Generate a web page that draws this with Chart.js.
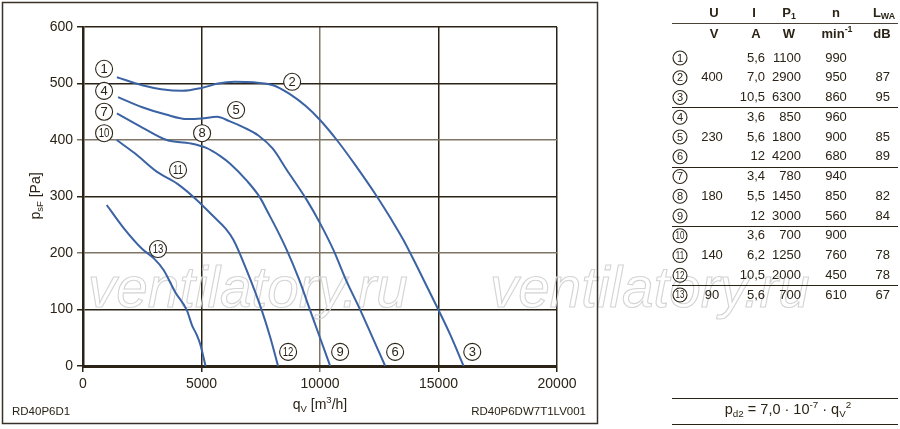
<!DOCTYPE html>
<html>
<head>
<meta charset="utf-8">
<script src="https://cdn.jsdelivr.net/npm/chart.js@4"></script>
<style>
  body { margin: 0; background: #fff; }
</style>
</head>
<body>
<canvas id="myChart" width="900" height="429"></canvas>
<script>
// curve 1-2-3 (400 V)
const q400 = [1430, 2500, 3300, 4180, 5000, 5700, 6400, 7200, 8020, 8700, 9400, 10010, 10710, 11500, 12400, 13000, 13520, 14000, 14400, 15000, 15500, 16060];
const p400 = [511, 497, 490, 487, 492, 500, 503, 502, 497, 482, 460, 435, 400, 355, 300, 260, 223, 184, 150, 99, 55, 0];
// curve 4-5-6 (230 V)
const q230 = [1480, 2500, 3500, 4390, 5000, 5650, 6200, 6800, 7400, 8000, 8600, 9440, 10010, 10570, 11100, 11700, 12200, 12750];
const p230 = [476, 458, 445, 437, 438, 441, 433, 422, 408, 385, 347, 294, 252, 205, 152, 99, 52, 0];
// curve 7-8-9 (180 V)
const q180 = [1430, 2500, 3530, 4520, 5200, 5780, 6210, 6910, 7470, 7800, 8200, 8600, 9100, 9580, 10000, 10430];
const p180 = [447, 422, 400, 394, 386, 372, 358, 328, 298, 272, 240, 205, 155, 99, 50, 0];
// curve 10-11-12 (140 V)
const q140 = [1420, 2200, 3110, 4000, 4800, 5500, 6000, 6350, 6900, 7540, 7900, 8230];
const p140 = [400, 376, 344, 322, 294, 265, 244, 223, 170, 99, 51, 0];
// curve 13 (90 V)
const q90 = [1000, 1700, 2500, 3000, 3400, 3900, 4380, 4600, 4800, 4950, 5170];
const p90 = [285, 245, 207, 190, 170, 130, 99, 72, 55, 38, 0];

// circled point numbers (in data units)
const markNo = [1, 2, 3, 4, 5, 6, 7, 8, 9, 10, 11, 12, 13];
const markQ = [890, 8825, 16425, 890, 6460, 13170, 890, 5025, 10850, 890, 4010, 8655, 3165];
const markP = [526, 503, 25, 487, 453, 25, 450, 412, 25, 412, 347, 25, 207];

const xTicks = [0, 5000, 10000, 15000, 20000];
const yTicks = [0, 100, 200, 300, 400, 500, 600];

// table
const tabU = ['', '400', '', '', '230', '', '', '180', '', '', '140', '', '90'];
const tabI = ['5,6', '7,0', '10,5', '3,6', '5,6', '12', '3,4', '5,5', '12', '3,6', '6,2', '10,5', '5,6'];
const tabP = ['1100', '2900', '6300', '850', '1800', '4200', '780', '1450', '3000', '700', '1250', '2000', '700'];
const tabN = ['990', '950', '860', '960', '900', '680', '940', '850', '560', '900', '760', '450', '610'];
const tabL = ['', '87', '95', '', '85', '89', '', '82', '84', '', '78', '78', '67'];

const FONT = '"Liberation Sans", Arial, sans-serif';
const INK = '#2b2316';
const BLUE = '#3b63a3';

function pts(qs, ps) {
    return qs.map((q, i) => ({ x: q, y: ps[i] }));
}

function rich(ctx, parts, x, y, align, size, bold) {
    const w = bold ? 'bold ' : '';
    let total = 0;
    parts.forEach(p => {
        const s = p[1] === 'n' ? size : size * 0.68;
        ctx.font = w + s + 'px ' + FONT;
        total += ctx.measureText(p[0]).width;
    });
    let cx = x;
    if (align === 'center') cx = x - total / 2;
    if (align === 'right') cx = x - total;
    ctx.textAlign = 'left';
    ctx.textBaseline = 'middle';
    parts.forEach(p => {
        let s = size, dy = 0;
        if (p[1] === 'sub') { s = size * 0.68; dy = size * 0.3; }
        if (p[1] === 'sup') { s = size * 0.68; dy = -size * 0.35; }
        ctx.font = w + s + 'px ' + FONT;
        ctx.fillText(p[0], cx, y + dy);
        cx += ctx.measureText(p[0]).width;
    });
}

function circled(ctx, n, x, y, r, size) {
    ctx.beginPath();
    ctx.arc(x, y, r, 0, Math.PI * 2);
    ctx.fillStyle = '#fff';
    ctx.fill();
    ctx.lineWidth = 1.1;
    ctx.strokeStyle = INK;
    ctx.stroke();
    ctx.fillStyle = INK;
    ctx.font = (n > 9 ? size - 1 : size) + 'px ' + FONT;
    ctx.textAlign = 'center';
    ctx.textBaseline = 'middle';
    if (n > 9) {
        ctx.save();
        ctx.translate(x, y + 0.5);
        ctx.scale(0.8, 1);
        ctx.fillText(String(n), 0, 0);
        ctx.restore();
    } else {
        ctx.fillText(String(n), x, y + 0.5);
    }
}

const watermark = {
    id: 'watermark',
    beforeDatasetsDraw(chart) {
        const ctx = chart.ctx;
        ctx.save();
        ctx.font = 'italic 100px ' + FONT;
        const k = 320 / ctx.measureText('ventilatory.ru').width;
        ctx.font = 'italic ' + (100 * k).toFixed(1) + 'px ' + FONT;
        ctx.strokeStyle = '#d4d4d4';
        ctx.lineWidth = 1.1;
        ctx.textAlign = 'left';
        ctx.textBaseline = 'alphabetic';
        ctx.strokeText('ventilatory.ru', 88, 307);
        ctx.strokeText('ventilatory.ru', 490, 307);
        ctx.restore();
    }
};

const extras = {
    id: 'extras',
    afterDraw(chart) {
        const ctx = chart.ctx;
        const xs = chart.scales.x, ys = chart.scales.y;
        ctx.save();
        // frame around diagram
        ctx.strokeStyle = '#3a3228';
        ctx.lineWidth = 1.5;
        ctx.strokeRect(2.5, 2.5, 595, 421);

        // circled numbers
        markNo.forEach((n, i) => {
            circled(ctx, n, xs.getPixelForValue(markQ[i]), ys.getPixelForValue(markP[i]), 8.5, 13);
        });

        // axis titles
        ctx.fillStyle = INK;
        rich(ctx, [['q', 'n'], ['V', 'sub'], [' [m', 'n'], ['3', 'sup'], ['/h]', 'n']], 320, 405, 'center', 14);
        ctx.save();
        ctx.translate(36, 196);
        ctx.rotate(-Math.PI / 2);
        rich(ctx, [['p', 'n'], ['sF', 'sub'], [' [Pa]', 'n']], 0, 0, 'center', 14);
        ctx.restore();

        ctx.font = '11.5px ' + FONT;
        ctx.textBaseline = 'middle';
        ctx.textAlign = 'left';
        ctx.fillText('RD40P6D1', 12, 412);
        ctx.textAlign = 'right';
        ctx.fillText('RD40P6DW7T1LV001', 586, 412);

        // table
        const L0 = 672, L1 = 898;
        ctx.strokeStyle = '#4a4238';
        ctx.lineWidth = 1.2;
        const hline = y => { ctx.beginPath(); ctx.moveTo(L0, y); ctx.lineTo(L1, y); ctx.stroke(); };
        ctx.fillStyle = INK;
        const TS = 13;
        rich(ctx, [['U', 'n']], 714, 13, 'center', TS, true);
        rich(ctx, [['I', 'n']], 754, 13, 'center', TS, true);
        rich(ctx, [['P', 'n'], ['1', 'sub']], 789, 13, 'center', TS, true);
        rich(ctx, [['n', 'n']], 836, 13, 'center', TS, true);
        rich(ctx, [['L', 'n'], ['WA', 'sub']], 884, 13, 'center', TS, true);
        hline(23.5);
        rich(ctx, [['V', 'n']], 714, 34, 'center', TS, true);
        rich(ctx, [['A', 'n']], 756, 34, 'center', TS, true);
        rich(ctx, [['W', 'n']], 789, 34, 'center', TS, true);
        rich(ctx, [['min', 'n'], ['-1', 'sup']], 837, 34, 'center', TS, true);
        rich(ctx, [['dB', 'n']], 882, 34, 'center', TS, true);

        const rowY = i => 58 + i * 19.75;
        tabI.forEach((v, i) => {
            const y = rowY(i);
            circled(ctx, i + 1, 680, y, 7, 11);
            ctx.fillStyle = INK;
            ctx.font = TS + 'px ' + FONT;
            ctx.textBaseline = 'middle';
            ctx.textAlign = 'center';
            if (tabU[i]) ctx.fillText(tabU[i], 712, y);
            ctx.textAlign = 'right';
            ctx.fillText(tabI[i], 765, y);
            ctx.fillText(tabP[i], 801, y);
            ctx.textAlign = 'center';
            ctx.fillText(tabN[i], 836, y);
            ctx.textAlign = 'right';
            if (tabL[i]) ctx.fillText(tabL[i], 890, y);
        });
        [2, 5, 8, 11].forEach(i => hline(Math.round((rowY(i) + rowY(i + 1)) / 2) + 0.5));

        hline(398.5);
        ctx.fillStyle = INK;
        rich(ctx, [['p', 'n'], ['d2', 'sub'], [' = 7,0 · 10', 'n'], ['-7', 'sup'], [' · q', 'n'], ['V', 'sub'], ['2', 'sup']], 788, 410, 'center', 14.5);
        hline(424.5);
        ctx.restore();
    }
};

function gridColor(c, grey) {
    return c.tick && grey.includes(c.tick.value) ? '#7e7666' : INK;
}

const ctx = document.getElementById('myChart');

new Chart(ctx, {
    type: 'scatter',
    data: {
        datasets: [
            { data: pts(q400, p400) },
            { data: pts(q230, p230) },
            { data: pts(q180, p180) },
            { data: pts(q140, p140) },
            { data: pts(q90, p90) }
        ].map(d => Object.assign(d, {
            showLine: true,
            borderColor: BLUE,
            borderWidth: 2,
            pointRadius: 0,
            cubicInterpolationMode: 'monotone'
        }))
    },
    options: {
        responsive: false,
        animation: false,
        layout: { padding: { left: 0, top: 27, right: 343, bottom: 0 } },
        plugins: { legend: { display: false }, tooltip: { enabled: false } },
        scales: {
            x: {
                type: 'linear',
                min: 0,
                max: 20000,
                afterFit: s => { s.height = 63; },
                afterBuildTicks: s => { s.ticks = xTicks.map(v => ({ value: v })); },
                ticks: {
                    color: INK,
                    padding: 4,
                    font: { size: 14, family: FONT },
                    callback: v => String(v),
                    maxRotation: 0
                },
                grid: {
                    color: c => gridColor(c, [10000]),
                    lineWidth: 1.5,
                    tickLength: 6
                },
                border: { color: INK, width: 3 }
            },
            y: {
                min: 0,
                max: 600,
                afterFit: s => { s.width = 83; },
                afterBuildTicks: s => { s.ticks = yTicks.map(v => ({ value: v })); },
                ticks: {
                    color: INK,
                    padding: 4,
                    font: { size: 14, family: FONT },
                    callback: v => String(v)
                },
                grid: {
                    color: c => gridColor(c, [200, 400]),
                    lineWidth: 1.5,
                    tickLength: 6
                },
                border: { color: INK, width: 2.5 }
            }
        }
    },
    plugins: [watermark, extras]
});
</script>
</body>
</html>
